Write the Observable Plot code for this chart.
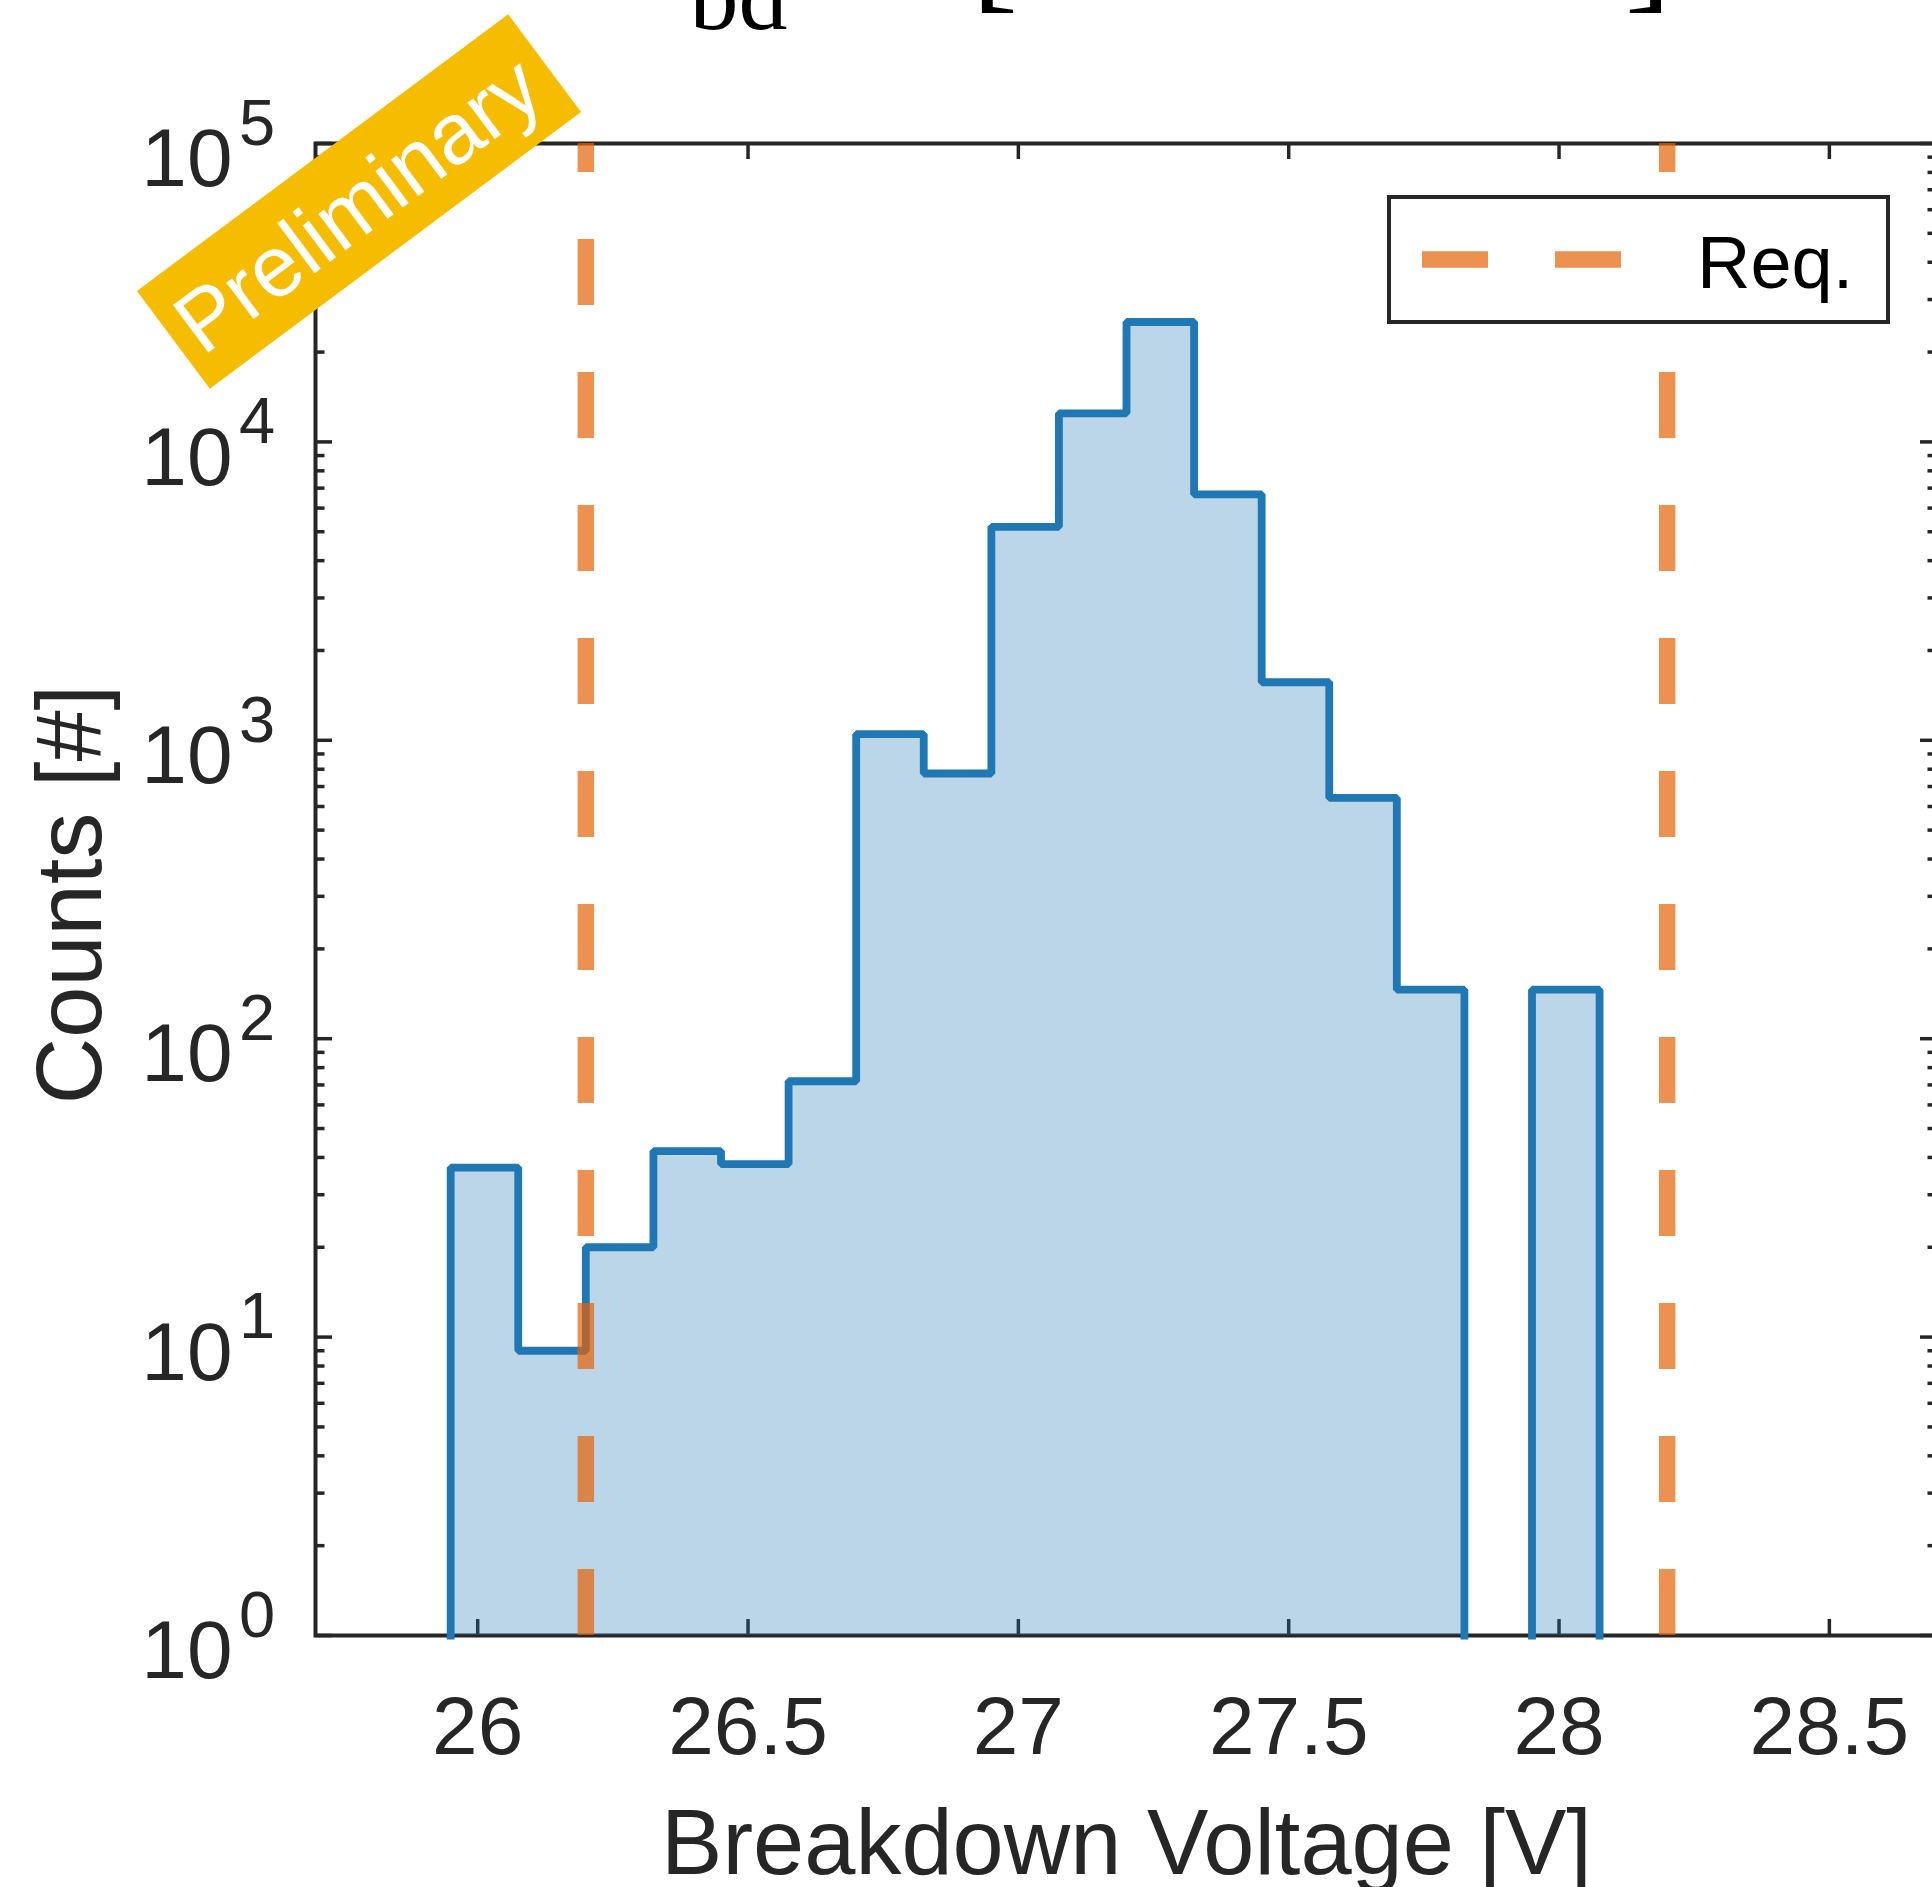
<!DOCTYPE html>
<html><head><meta charset="utf-8">
<script src="https://cdn.jsdelivr.net/npm/d3@7"></script>
<script src="https://cdn.jsdelivr.net/npm/@observablehq/plot@0.6"></script>
<style>
html,body{margin:0;padding:0;background:#fff;overflow:hidden;width:1932px;height:1887px;position:relative;}
#wrap{position:absolute;left:0;top:-160px;}
#wrap svg{max-width:none!important;display:block;}
#overlay{position:absolute;left:0;top:0;pointer-events:none;}
</style></head><body>
<div id="wrap"></div>
<svg id="overlay" width="1932" height="1887" font-family="Liberation Sans, Arial, Helvetica, sans-serif">
  <rect x="1389" y="197" width="499" height="125" fill="#fff" stroke="#262626" stroke-width="4"/>
  <line x1="1422" x2="1622" y1="259.5" y2="259.5" stroke="#E56205" stroke-opacity="0.7" stroke-width="16.7" stroke-dasharray="66,67"/>
  <text x="1697" y="288.3" font-size="74" fill="#000">Req.</text>
  <g transform="translate(359,201.5) rotate(-36.7)">
    <rect x="-231.5" y="-61" width="463" height="122" fill="#F6BD00"/>
    <text x="-3" y="31" text-anchor="middle" font-size="86" fill="#fff">Preliminary</text>
  </g>
</svg>
<script>
// ---- data ----
const binEdges = [25.95, 26.075, 26.2, 26.325, 26.45, 26.575, 26.7, 26.825, 26.95,
                  27.075, 27.2, 27.325, 27.45, 27.575, 27.7, 27.825, 27.95, 28.075];
const counts = [37, 9, 20, 42, 38, 72, 1048, 774, 5194, 12470, 25220, 6674, 1565, 641, 146, 0, 146];
const reqLimits = [26.2, 28.2];
const xTicks = [26, 26.5, 27, 27.5, 28, 28.5];
const xTickLabels = ["26", "26.5", "27", "27.5", "28", "28.5"];
const yTicks = [1, 10, 100, 1000, 10000, 100000];
const yTickBase = "10";
const yTickExponents = ["0", "1", "2", "3", "4", "5"];
const minorMultipliers = [2, 3, 4, 5, 6, 7, 8, 9];
const titleParts = ["V", "bd", "\u2208", "[26.2 - 28.2]"];
const xLabel = "Breakdown Voltage [V]";
const yLabel = "Counts [#]";

// ---- layout ----
const SHIFT = 160, W = 1940, H = 1887 + SHIFT;
const ML = 315, MR = 3, MT = 143 + SHIFT, MB = H - (1635 + SHIFT);
const FW = W - ML - MR, FH = H - MT - MB;
const AX = "#262626";
const FONT = "Liberation Sans, Arial, Helvetica, sans-serif";
const SERIF = "Liberation Serif, Times New Roman, serif";
const BLUE = "#1F77B4";

const yMinor = [];
yTicks.slice(0, -1).forEach(t => minorMultipliers.forEach(m => yMinor.push(t * m)));

const bins = counts.map((c, i) => ({x1: binEdges[i], x2: binEdges[i + 1], count: c}));
const outline = [];
let seg = 0, open = false;
bins.forEach(b => {
  if (b.count > 0) {
    if (!open) { seg++; outline.push({x: b.x1, y: 1, seg}); open = true; }
    outline.push({x: b.x1, y: b.count, seg}, {x: b.x2, y: b.count, seg});
  } else if (open) {
    outline.push({x: b.x1, y: 1, seg}); open = false;
  }
});
if (open) outline.push({x: bins[bins.length - 1].x2, y: 1, seg});

const chart = Plot.plot({
  width: W, height: H,
  marginTop: MT, marginRight: MR, marginBottom: MB, marginLeft: ML,
  x: {domain: [25.7, 28.7], axis: null},
  y: {type: "log", domain: [1, 1e5], axis: null},
  style: {fontFamily: FONT, background: "white", maxWidth: "none"},
  marks: [
    // axes box and ticks (drawn below data, like MATLAB layer bottom)
    Plot.frame({stroke: AX, strokeWidth: 4}),
    Plot.ruleX(xTicks, {x: d => d, insetTop: FH - 16, stroke: AX, strokeWidth: 3.5}),
    Plot.ruleX(xTicks, {x: d => d, insetBottom: FH - 16, stroke: AX, strokeWidth: 3.5}),
    Plot.ruleY(yTicks, {y: d => d, insetRight: FW - 17, stroke: AX, strokeWidth: 3.5}),
    Plot.ruleY(yTicks, {y: d => d, insetLeft: FW - 17, stroke: AX, strokeWidth: 3.5}),
    Plot.ruleY(yMinor, {y: d => d, insetRight: FW - 9.5, stroke: AX, strokeWidth: 3.5}),
    Plot.ruleY(yMinor, {y: d => d, insetLeft: FW - 9.5, stroke: AX, strokeWidth: 3.5}),
    // histogram
    Plot.area(outline, {x1: "x", y1: 1, y2: "y", z: "seg", fill: BLUE, fillOpacity: 0.3}),
    Plot.line(outline, {x: "x", y: "y", z: "seg", stroke: BLUE, strokeWidth: 7.8,
      strokeLinejoin: "miter", strokeLinecap: "square"}),
    // requirement lines
    Plot.ruleX(reqLimits, {x: d => d, y1: 1, y2: 1e5, stroke: "#E56205", strokeOpacity: 0.7,
      strokeWidth: 16.5, strokeDasharray: "66,67"}),
    // tick labels
    Plot.text(xTicks, {x: d => d, text: (d, i) => xTickLabels[i], frameAnchor: "bottom",
      lineAnchor: "bottom", dy: 118, fontSize: 82, fill: AX}),
    Plot.text(yTicks, {y: d => d, text: () => yTickBase, frameAnchor: "left", textAnchor: "end",
      lineAnchor: "bottom", dx: -83, dy: 42.7, fontSize: 82, fill: AX}),
    Plot.text(yTicks, {y: d => d, text: (d, i) => yTickExponents[i], frameAnchor: "left",
      textAnchor: "start", lineAnchor: "bottom", dx: -76.5, dy: 1.3, fontSize: 65, fill: AX}),
    // axis titles
    Plot.text([xLabel], {frameAnchor: "bottom", lineAnchor: "bottom", dy: 238, fontSize: 92, fill: AX}),
    Plot.text([yLabel], {frameAnchor: "left", rotate: -90, textAnchor: "middle", lineAnchor: "bottom",
      dx: -215, dy: 5, fontSize: 92, fill: AX}),
    // title (mostly above the visible page, as in the reference)
    Plot.text([titleParts[0]], {frameAnchor: "top-left", textAnchor: "end", lineAnchor: "bottom",
      dx: 374, dy: -150, fontSize: 140, fontStyle: "italic", fontFamily: SERIF, fill: "#000"}),
    Plot.text([titleParts[1]], {frameAnchor: "top-left", textAnchor: "start", lineAnchor: "bottom",
      dx: 374, dy: -115, fontSize: 98, fontFamily: SERIF, fill: "#000"}),
    Plot.text([titleParts[2]], {frameAnchor: "top-left", textAnchor: "middle", lineAnchor: "bottom",
      dx: 570, dy: -150, fontSize: 140, fontFamily: SERIF, fill: "#000"}),
    Plot.text([titleParts[3]], {frameAnchor: "top-left", textAnchor: "start", lineAnchor: "bottom",
      dx: 656, dy: -150, fontSize: 140, fontFamily: SERIF, fill: "#000"})
  ]
});
document.getElementById("wrap").appendChild(chart);
</script>
</body></html>
